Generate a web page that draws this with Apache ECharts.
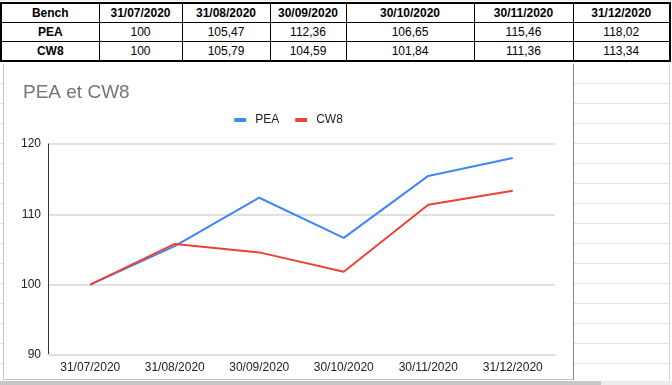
<!DOCTYPE html>
<html>
<head>
<meta charset="utf-8">
<script src="https://cdn.jsdelivr.net/npm/echarts@6/dist/echarts.min.js"></script>
<style>
  html, body { margin:0; padding:0; width:672px; height:385px; overflow:hidden; background:#fff; font-family:"Liberation Sans", Arial, sans-serif; }
  #sheet { position:absolute; left:0; top:0; width:672px; height:385px; }
  table.bench { position:absolute; left:0; top:2px; border-collapse:collapse; font-size:12px; color:#000; }
  table.bench td { border:1px solid #000; text-align:center; padding:0; height:18px; line-height:18px; }
  table.bench tr:first-child td { border-top:2px solid #000; font-weight:bold; }
  table.bench tr:last-child td { border-bottom:2px solid #000; }
  table.bench td:first-child { font-weight:bold; border-left:2px solid #000; }
  table.bench td:last-child { border-right:2px solid #000; }
  #chart { position:absolute; left:3px; top:64px; width:569px; height:315px; background:#fff;
           border-left:1px solid #c4c4c4; border-right:1px solid #8a8a8a; border-bottom:1px solid #c4c4c4; }
  .hl { position:absolute; height:1px; background:#e2e2e2; }
  .vl { position:absolute; width:1px; background:#d8d8d8; }
</style>
</head>
<body>
<div id="sheet"></div>
<div id="chart"></div>
<script>
// ---- data ----
const categories = ['31/07/2020', '31/08/2020', '30/09/2020', '30/10/2020', '30/11/2020', '31/12/2020'];
const peaValues = [100, 105.47, 112.36, 106.65, 115.46, 118.02];
const cw8Values = [100, 105.79, 104.59, 101.84, 111.36, 113.34];
const seriesNames = ['PEA', 'CW8'];
const titleText = 'PEA et CW8';
const headerLabel = 'Bench';

// ---- spreadsheet decoration ----
const sheet = document.getElementById('sheet');
const colWidths = [98, 83, 88, 76, 128, 99, 97];
const fmt = v => String(v).replace('.', ',');
let html = '<table class="bench"><colgroup>' + colWidths.map(w => '<col style="width:' + w + 'px">').join('') + '</colgroup>';
html += '<tr><td>' + headerLabel + '</td>' + categories.map(c => '<td>' + c + '</td>').join('') + '</tr>';
html += '<tr><td>' + seriesNames[0] + '</td>' + peaValues.map(v => '<td>' + fmt(v) + '</td>').join('') + '</tr>';
html += '<tr><td>' + seriesNames[1] + '</td>' + cw8Values.map(v => '<td>' + fmt(v) + '</td>').join('') + '</tr>';
html += '</table>';
for (let y = 83; y < 380; y += 20) html += '<div class="hl" style="left:574px;top:' + y + 'px;width:96px"></div>';
html += '<div class="vl" style="left:669px;top:64px;height:318px"></div>';
for (let y = 83; y < 380; y += 20) html += '<div class="hl" style="left:0px;top:' + y + 'px;width:3px"></div>';
html += '<div class="hl" style="left:0;top:0;width:672px;background:#eee"></div>';
html += '<div style="position:absolute;left:0;top:381px;width:672px;height:4px;background:#ececec"></div>';
html += '<div style="position:absolute;left:0;top:381px;width:601px;height:4px;background:#c6c6c6"></div>';
sheet.innerHTML = html;

// ---- chart ----
const chart = echarts.init(document.getElementById('chart'), null, { renderer: 'canvas' });
const font = '"Liberation Sans", Arial, sans-serif';
chart.setOption({
  animation: false,
  title: {
    text: titleText, left: 14, top: 14,
    textStyle: { color: '#757575', fontSize: 19, fontWeight: 'normal', fontFamily: font }
  },
  legend: {
    data: seriesNames, left: 'center', top: 45,
    icon: 'roundRect', itemWidth: 12, itemHeight: 4, itemGap: 16,
    textStyle: { color: '#222', fontSize: 12, fontFamily: font, padding: [0, 0, 0, 4] }
  },
  grid: { left: 44, right: 18, top: 80, bottom: 24, containLabel: false },
  xAxis: {
    type: 'category', data: categories, boundaryGap: true,
    axisLine: { show: true, lineStyle: { color: '#e0e0e0', width: 2 } },
    axisTick: { show: false },
    axisLabel: { color: '#222', fontSize: 12, fontFamily: font, margin: 7, interval: 0 }
  },
  yAxis: {
    type: 'value', min: 90, max: 120, interval: 10,
    axisLine: { show: true, lineStyle: { color: '#333', width: 1 } },
    axisTick: { show: false },
    axisLabel: { color: '#222', fontSize: 12, fontFamily: font, margin: 7 },
    splitLine: { show: true, lineStyle: { color: '#e0e0e0', width: 2 } }
  },
  series: [
    { name: seriesNames[0], type: 'line', data: peaValues, symbol: 'none',
      lineStyle: { color: '#4285F4', width: 2 }, itemStyle: { color: '#4285F4' } },
    { name: seriesNames[1], type: 'line', data: cw8Values, symbol: 'none',
      lineStyle: { color: '#EA4335', width: 2 }, itemStyle: { color: '#EA4335' } }
  ]
});
</script>
</body>
</html>
